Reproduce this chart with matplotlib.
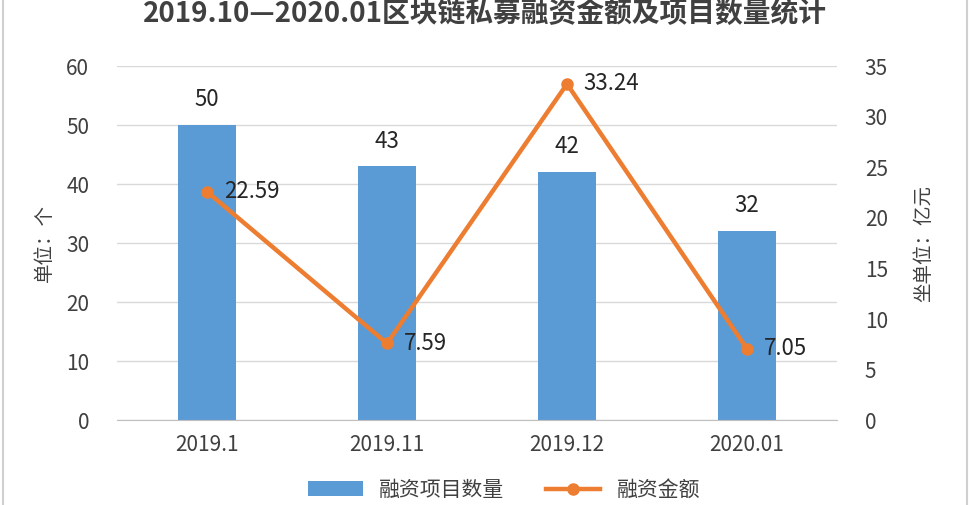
import matplotlib.pyplot as plt
import numpy as np

plt.rcParams['font.family'] = ['Noto Sans CJK SC', 'DejaVu Sans']

months = ['2019.1', '2019.11', '2019.12', '2020.01']
project_counts = [50, 43, 42, 32]
amounts = [22.59, 7.59, 33.24, 7.05]

blue = '#5B9BD5'
orange = '#ED7D31'
text_color = '#404040'

fig = plt.figure(figsize=(9.7, 5.05), dpi=100)
ax = fig.add_axes([0.1206, 0.168, 0.7423, 0.701])
ax2 = ax.twinx()

x = np.arange(len(months))
bars = ax.bar(x, project_counts, width=0.32, color=blue, label='融资项目数量', zorder=2)
line, = ax2.plot(x, amounts, color=orange, linewidth=3.2, marker='o', markersize=8,
                 label='融资金额', zorder=3)

ax.set_xlim(-0.5, len(months) - 0.5)
ax.set_ylim(0, 60)
ax.set_yticks(range(0, 61, 10))
ax2.set_ylim(0, 35)
ax2.set_yticks(range(0, 36, 5))
ax.set_xticks(x)
ax.set_xticklabels(months)

ax.grid(axis='y', color='#d9d9d9', linewidth=1, zorder=0)
ax.set_axisbelow(True)
for a in (ax, ax2):
    for s in a.spines.values():
        s.set_visible(False)
    a.tick_params(length=0, labelsize=15, labelcolor=text_color)
ax.spines['bottom'].set_visible(True)
ax.spines['bottom'].set_color('#bfbfbf')
ax.tick_params(axis='x', pad=10)
ax.tick_params(axis='y', pad=20)
ax2.tick_params(axis='y', pad=20)

for xi, v in zip(x, project_counts):
    ax.annotate(str(v), (xi, v), xytext=(0, 10), textcoords='offset points',
                ha='center', va='bottom', fontsize=16, color='#262626')
for xi, v in zip(x, amounts):
    ax2.annotate(f'{v:.2f}', (xi, v), xytext=(12, 0), textcoords='offset points',
                 ha='left', va='center', fontsize=16, color='#262626')

ax.set_ylabel('单位：个', fontsize=14, color=text_color, labelpad=8)
ax2.set_ylabel('坐单位：亿元', fontsize=14, color=text_color, rotation=90, labelpad=18)

fig.suptitle('2019.10—2020.01区块链私募融资金额及项目数量统计', fontsize=20,
             fontweight='bold', color=text_color, y=1.0)

fig.legend(handles=[bars, line], loc='center', bbox_to_anchor=(0.52, 0.03),
           ncol=2, frameon=False, fontsize=15, handlelength=2.6,
           columnspacing=2.0, labelcolor=text_color)

fig.patches.append(plt.Rectangle((0.003, -0.01), 0.994, 1.02, transform=fig.transFigure,
                                 fill=False, edgecolor='#d0d0d0', linewidth=1.5))

fig.savefig('out.png', dpi=100)
